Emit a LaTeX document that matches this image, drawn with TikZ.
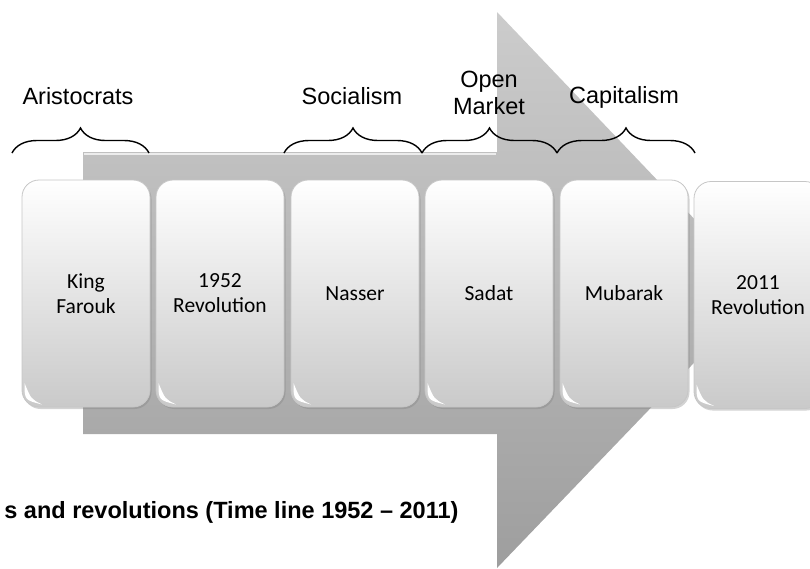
\documentclass[tikz,border=0pt]{standalone}
\usepackage{fontspec}
\setmainfont{Liberation Sans}
\newfontfamily\boxfont{Carlito}
\usetikzlibrary{decorations.pathreplacing,shadows}
\definecolor{arrowtop}{HTML}{CCCCCC}
\definecolor{arrowbot}{HTML}{9E9E9E}
\newcommand{\boxw}{128pt}
\newcommand{\boxh}{227pt}
\newcommand{\erabrace}[2]{\draw[erabrace] (#1) -- (#2);}
\tikzset{
  era/.style={font=\fontsize{23.5}{27}\selectfont, align=center, anchor=base},
  erabrace/.style={decorate, decoration={brace, amplitude=25pt}, line width=1.4pt},
  reign/.style={rounded corners=17pt, minimum width=\boxw, minimum height=\boxh,
    draw=gray!45, line width=0.8pt, top color=white, bottom color=gray!42,
    drop shadow={opacity=0.35, shadow xshift=1.5pt, shadow yshift=-2pt},
    font=\boxfont\fontsize{21.5}{25}\selectfont, align=center, inner sep=0pt,
    path picture={\fill[white, rounded corners=0pt]
      ([shift={(2.5pt,24pt)}]path picture bounding box.south west)
      .. controls ([shift={(2.5pt,7pt)}]path picture bounding box.south west)
      .. ([shift={(20pt,2.5pt)}]path picture bounding box.south west)
      .. controls ([shift={(9pt,8pt)}]path picture bounding box.south west)
      .. cycle;}}
}
\begin{document}
\begin{tikzpicture}[x=1pt, y=-1pt]
    \useasboundingbox (0,0) rectangle (810,568);

    % the big arrow behind the boxes
    \shade[top color=arrowtop, bottom color=arrowbot]
      (83,152) -- (497,152) -- (497,12) -- (763,291) -- (497,568)
      -- (497,434) -- (83,434) -- cycle;
    \draw[gray!15, line width=2pt] (84,153.5) -- (496,153.5);

    % eras
    \coordinate (a1) at (12,153);  \coordinate (a2) at (149,153);
    \coordinate (s1) at (284,153); \coordinate (s2) at (422,153);
    \coordinate (m1) at (422,153); \coordinate (m2) at (557,153);
    \coordinate (c1) at (557,153); \coordinate (c2) at (695,153);

    \erabrace{a1}{a2}
    \erabrace{s1}{s2}
    \erabrace{m1}{m2}
    \erabrace{c1}{c2}

    \node[era] (aristo) at (78,104) {Aristocrats};
    \node[era] (social) at (352,104) {Socialism};
    \node[era] (market) at (489,114) {Open\\Market};
    \node[era] (capital) at (624,103) {Capitalism};

    % rulers and revolutions
    \node[reign] (farouk)  at (86,293.5)  {King\\Farouk};
    \node[reign] (rev52)   at (220,293.5) {1952\\Revolution};
    \node[reign] (nasser)  at (355,293.5) {Nasser};
    \node[reign] (sadat)   at (489,293.5) {Sadat};
    \node[reign] (mubarak) at (624,293.5) {Mubarak};
    \node[reign] (rev11)   at (758,295)   {2011\\Revolution};

    \node[anchor=base east, font=\bfseries\fontsize{23.5}{28}\selectfont] (caption)
      at (462,518) {s and revolutions (Time line 1952 -- 2011)};
\end{tikzpicture}
\end{document}
